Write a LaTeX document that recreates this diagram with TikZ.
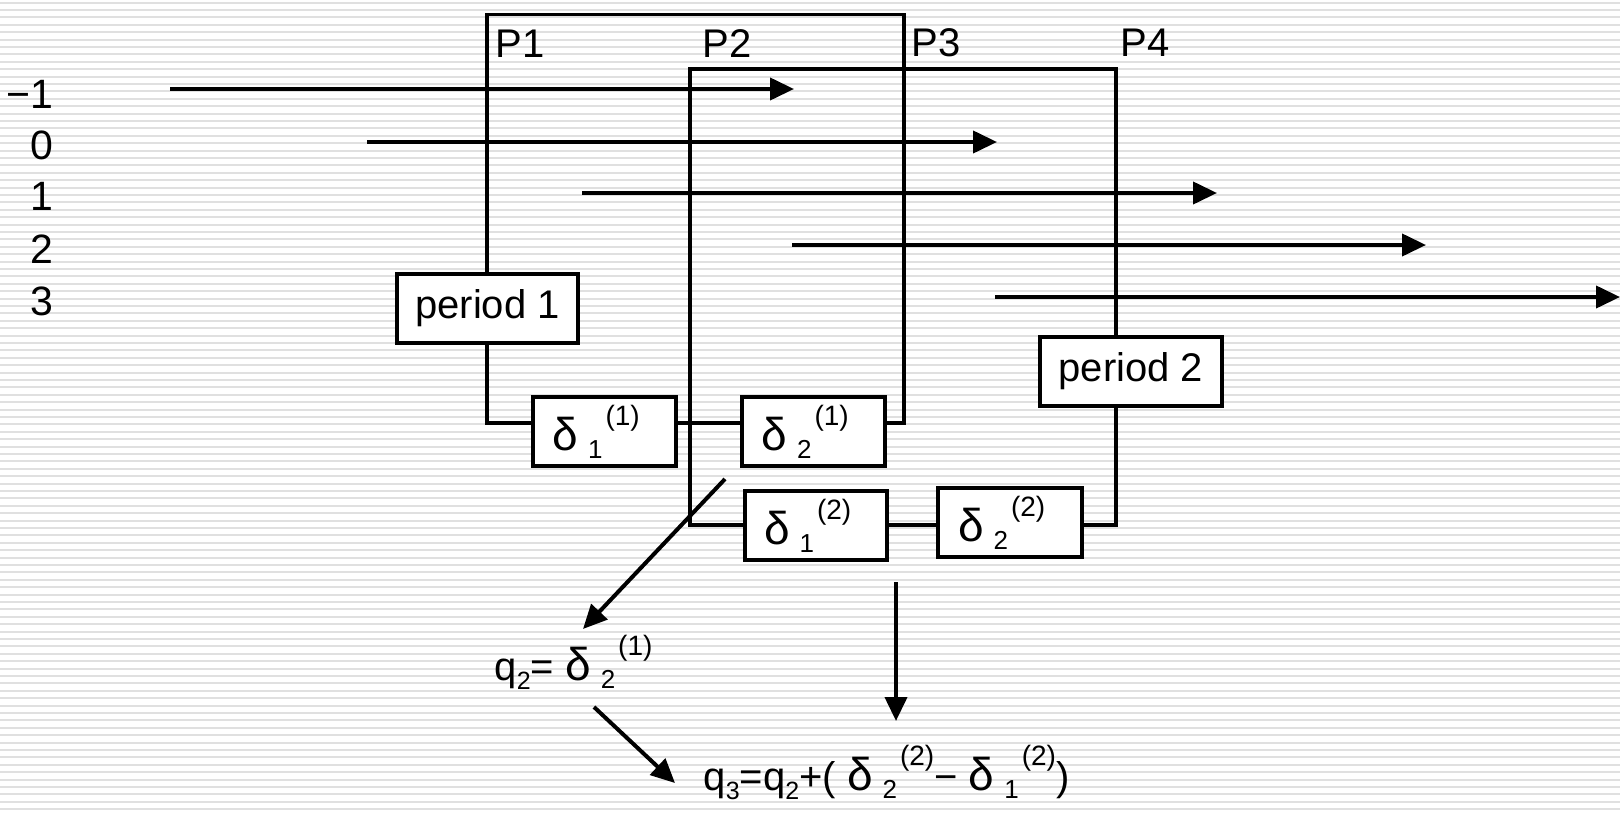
\documentclass[tikz,border=0pt]{standalone}
\usepackage{fontspec}
\setmainfont{Liberation Sans}
\usetikzlibrary{arrows.meta}
\newcommand{\fsz}[1]{\fontsize{#1}{#1}\selectfont}
\newcommand{\lowr}[1]{\raisebox{-9pt}{\fsz{25}#1}}
\newcommand{\dsym}[2]{{\fsz{46}δ}\hspace{10pt}\raisebox{-8pt}{\fsz{26}#1}\hspace{3pt}\raisebox{25pt}{\fsz{28}(#2)}}
\newcommand{\dbox}[2]{\makebox[140pt][l]{\hspace{18pt}\dsym{#1}{#2}}}
\tikzset{
  stripe/.style={fill=black!12},
  lbl/.style={inner sep=0pt, font=\fsz{40}},
  box/.style={draw, fill=white, line width=3.1pt, inner sep=0pt, minimum height=69pt},
  arr/.style={-{Triangle[length=24pt,width=22pt]}, line width=4pt},
}
\begin{document}
\begin{tikzpicture}[x=1pt,y=-1pt,line width=3.1pt]
\useasboundingbox (0,0) rectangle (1620,814);
\fill[white] (0,0) rectangle (1620,814);
\foreach \k in {0,...,110}
	\fill[stripe] (0,{\k*7.4+1.5}) rectangle (1620,{\k*7.4+3.5});
% the two periods
\coordinate (l1a) at (487,14.5);
\coordinate (l1b) at (904,423);
\coordinate (l2a) at (690,69);
\coordinate (l2b) at (1116,525);
\draw (l1a) rectangle (l1b);
\draw (l2a) rectangle (l2b);
\foreach \name/\x/\y in {P1/494/57, P2/701/57, P3/910/56, P4/1119/56}
	\node[lbl, anchor=base west] (\name) at (\x,\y) {\name};
\foreach \t/\y [count=\i] in {−1/108, 0/159, 1/210, 2/263, 3/315}
	\node[inner sep=0pt, anchor=base east, font=\fsz{41}] (r\i) at (55,\y) {\t};
% rows
\foreach \i/\xa/\xb/\y in {1/170/794/89, 2/367/997/142, 3/582/1217/193, 4/792/1426/245, 5/995/1620/297}{
	\coordinate (s\i) at (\xa,\y);
	\coordinate (e\i) at (\xb,\y);
	\draw[arr] (s\i) -- (e\i);
	}
\node[box, minimum width=181pt, font=\fsz{40}] (per1) at (487.5,308.5) {period 1};
\node[box, minimum width=182pt, font=\fsz{40}] (per2) at (1131,371.5) {period 2};
\node[box, minimum width=143pt] (d11) at (604.5,431.5) {\dbox{1}{1}};
\node[box, minimum width=143pt] (d21) at (813.5,431.5) {\dbox{2}{1}};
\node[box, minimum width=142pt] (d12) at (816,525.5) {\dbox{1}{2}};
\node[box, minimum width=144pt] (d22) at (1010,522.5) {\dbox{2}{2}};
% results
\node[inner sep=0pt, anchor=base west, font=\fsz{40}] (q2) at (493,680) {q\lowr{2}= \dsym{2}{1}};
\node[inner sep=0pt, anchor=base west, font=\fsz{40}] (q3) at (702,790) {q\lowr{3}=q\lowr{2}+( \dsym{2}{2}− \dsym{1}{2})};
\coordinate (a1) at (725,479);
\coordinate (a1e) at (583,629);
\coordinate (a2) at (594,707);
\coordinate (a2e) at (675,783);
\coordinate (a3) at (896,582);
\coordinate (a3e) at (896,721);
\draw[arr] (a1) -- (a1e);
\draw[arr] (a2) -- (a2e);
\draw[arr] (a3) -- (a3e);
\end{tikzpicture}
\end{document}
